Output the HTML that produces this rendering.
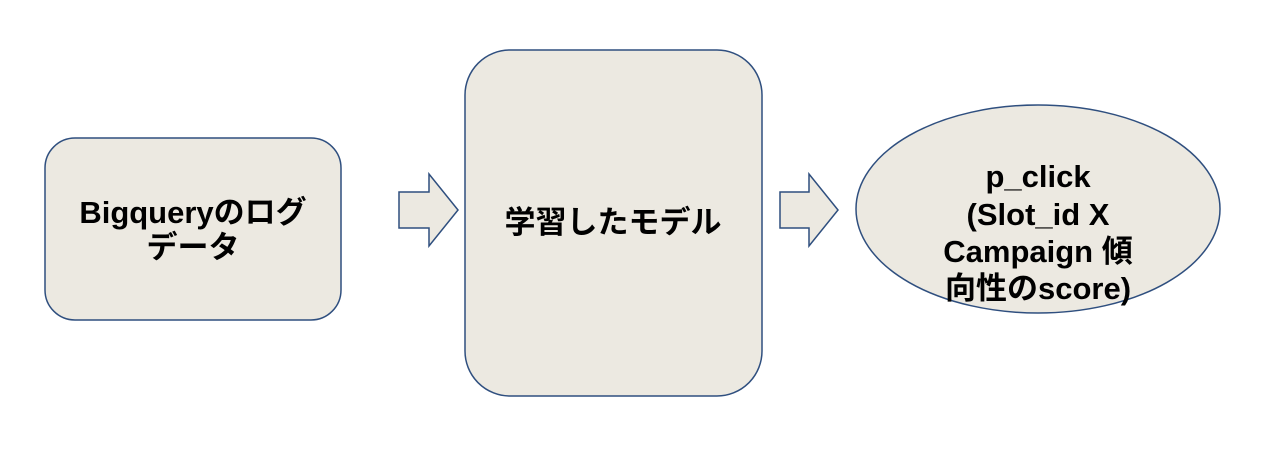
<!DOCTYPE html>
<html><head><meta charset="utf-8"><style>
body{margin:0;background:#fff;width:1268px;height:460px;overflow:hidden}
text{font-family:"Liberation Sans","Noto Sans CJK JP",sans-serif;font-weight:bold;font-size:31px;fill:#000}
</style></head><body>
<svg width="1268" height="460" xmlns="http://www.w3.org/2000/svg">
<g fill="#ece9e1" stroke="#2f4f7f" stroke-width="1.5">
<rect x="45" y="138" width="296" height="182" rx="30"/>
<rect x="465" y="50" width="297" height="346" rx="45"/>
<ellipse cx="1038" cy="209" rx="182" ry="104"/>
<polygon points="399,192 429,192 429,174 458,210 429,246 429,228 399,228"/>
<polygon points="780,192 809,192 809,174 838,210 809,246 809,228 780,228"/>
</g>
<g text-anchor="middle">
<text x="193" y="223">Bigqueryのログ</text>
<text x="193" y="258">データ</text>
<text x="613" y="233">学習したモデル</text>
<text x="1038" y="187">p_click</text>
<text x="1038" y="225">(Slot_id X</text>
<text x="1038" y="262">Campaign 傾</text>
<text x="1038" y="299">向性のscore)</text>
</g>
</svg>
</body></html>
